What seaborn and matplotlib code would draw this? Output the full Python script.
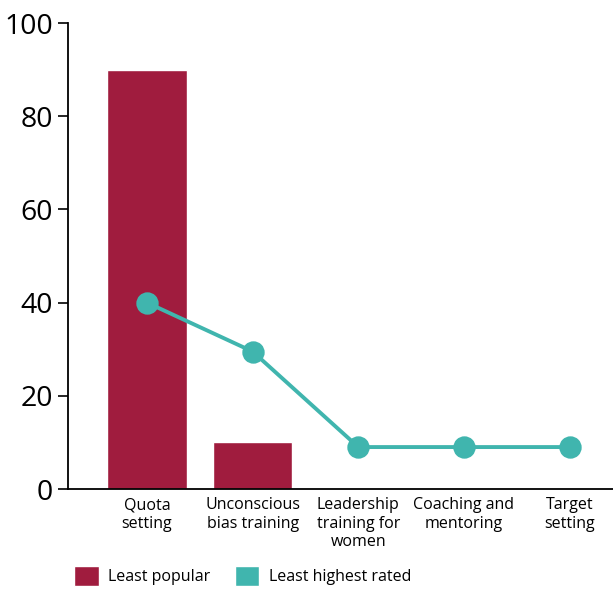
import matplotlib
matplotlib.use('Agg')
import matplotlib.pyplot as plt
from matplotlib.patches import Patch
import seaborn as sns
import pandas as pd

# data
categories = ['Quota\nsetting', 'Unconscious\nbias training', 'Leadership\ntraining for\nwomen',
              'Coaching and\nmentoring', 'Target\nsetting']
least_popular = [90, 10, 0, 0, 0]
least_highest_rated = [40, 29.5, 9, 9, 9]
y_ticks = [0, 20, 40, 60, 80, 100]

bar_color = '#A01C3E'
line_color = '#40B5AE'

sns.set_theme(style='white')
plt.rcParams['font.family'] = ['Open Sans', 'DejaVu Sans']
plt.rcParams['text.color'] = 'black'
plt.rcParams['xtick.color'] = 'black'
plt.rcParams['ytick.color'] = 'black'

df = pd.DataFrame({'category': categories,
                   'popular': least_popular,
                   'rated': least_highest_rated})

fig = plt.figure(figsize=(6.13, 5.91), dpi=100)
ax = fig.add_axes([68 / 613, (591 - 489) / 591, (613 - 68) / 613, (489 - 23) / 591])

sns.barplot(data=df, x='category', y='popular', color=bar_color, width=0.75,
            saturation=1, ax=ax)
sns.pointplot(data=df, x='category', y='rated', color=line_color, ax=ax,
              markersize=14, linewidth=2.8)

ax.set_xlim(-0.747, 4.41)
ax.set_ylim(0, 100)
ax.set_yticks(y_ticks)
ax.set_xlabel('')
ax.set_ylabel('')
ax.tick_params(axis='y', length=7, width=1.2, labelsize=20.5, pad=4, left=True, color='black')
ax.tick_params(axis='x', length=0, labelsize=11.5, pad=6)
for lab in ax.get_xticklabels():
    lab.set_linespacing(1.2)
for s in ['top', 'right']:
    ax.spines[s].set_visible(False)
for s in ['left', 'bottom']:
    ax.spines[s].set_color('black')
    ax.spines[s].set_linewidth(1.3)

handles = [Patch(facecolor=bar_color, label='Least popular'),
           Patch(facecolor=line_color, label='Least highest rated')]
fig.legend(handles=handles, loc='lower left', bbox_to_anchor=(66 / 613, -0.005), ncol=2,
           frameon=False, fontsize=11.5, handlelength=1.55, handleheight=1.55,
           handletextpad=0.6, columnspacing=1.5, borderpad=0)

fig.savefig('out.png', dpi=100)
